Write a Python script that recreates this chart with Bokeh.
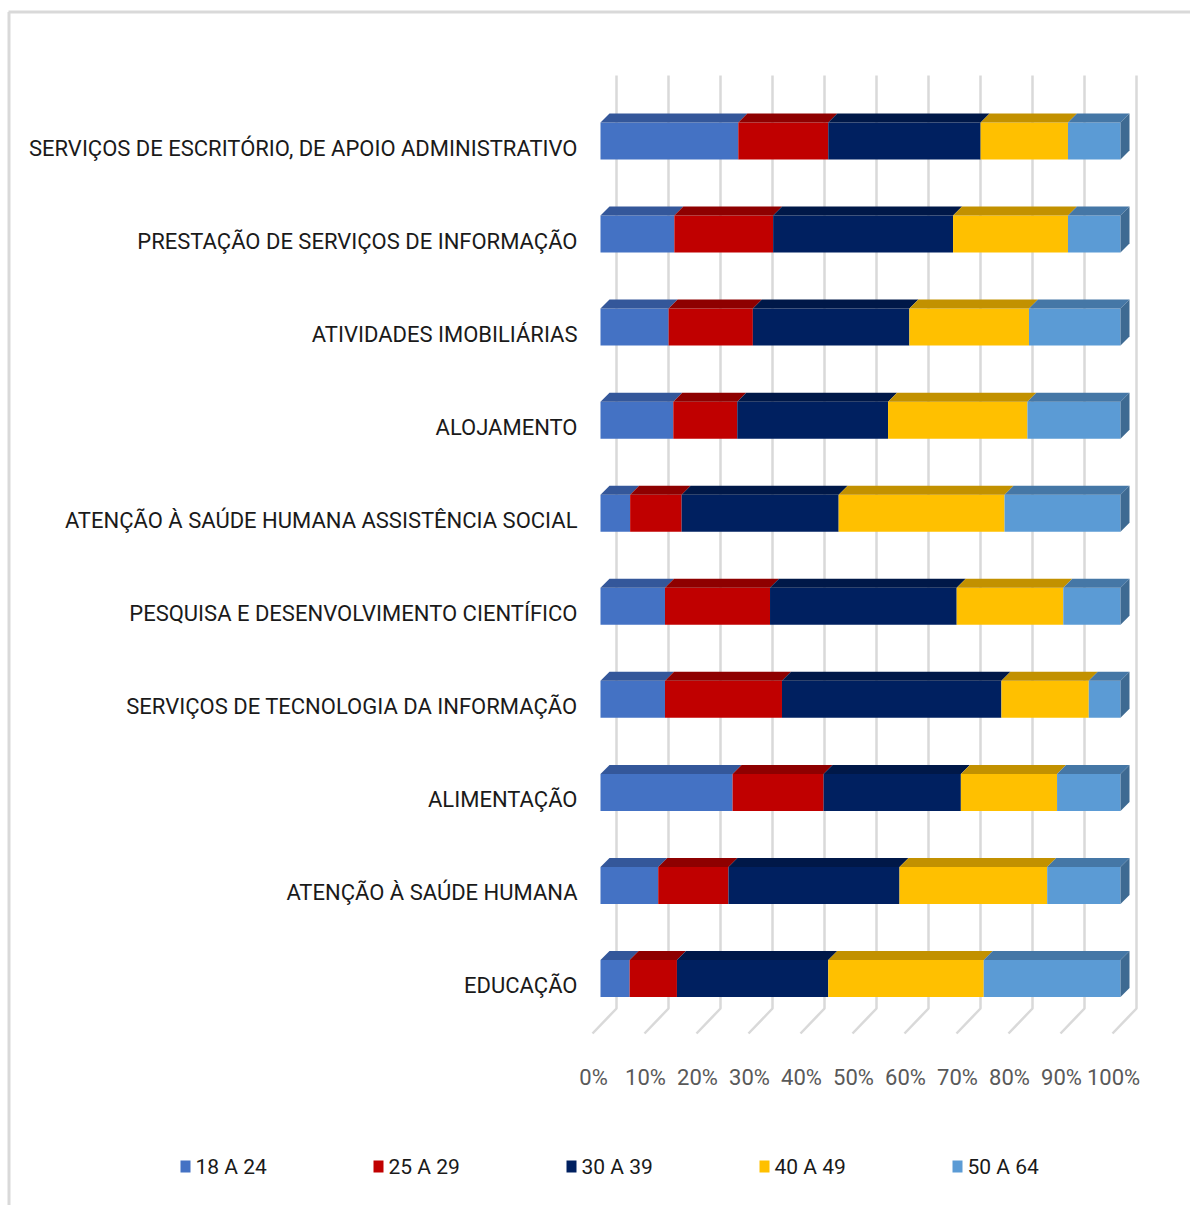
from bokeh.plotting import figure
from bokeh.models import Range1d
from bokeh.core.properties import value
from bokeh.embed import file_html
from bokeh.resources import INLINE

# ---------------- data ----------------
categories = [
    "SERVIÇOS DE ESCRITÓRIO, DE APOIO ADMINISTRATIVO",
    "PRESTAÇÃO DE SERVIÇOS DE INFORMAÇÃO",
    "ATIVIDADES IMOBILIÁRIAS",
    "ALOJAMENTO",
    "ATENÇÃO À SAÚDE HUMANA ASSISTÊNCIA SOCIAL",
    "PESQUISA E DESENVOLVIMENTO CIENTÍFICO",
    "SERVIÇOS DE TECNOLOGIA DA INFORMAÇÃO",
    "ALIMENTAÇÃO",
    "ATENÇÃO À SAÚDE HUMANA",
    "EDUCAÇÃO",
]
series_names = ["18 A 24", "25 A 29", "30 A 39", "40 A 49", "50 A 64"]
age_18_24 = [26.5, 14.2, 13.1, 14.0, 5.7, 12.4, 12.4, 25.4, 11.1, 5.6]
age_25_29 = [17.3, 19.0, 16.2, 12.3, 9.9, 20.2, 22.5, 17.5, 13.5, 9.1]
age_30_39 = [29.3, 34.6, 30.1, 29.0, 30.2, 35.9, 42.2, 26.4, 32.9, 29.1]
age_40_49 = [16.8, 22.1, 23.0, 26.8, 31.9, 20.5, 16.8, 18.5, 28.4, 29.9]
age_50_64 = [10.1, 10.1, 17.6, 17.9, 22.3, 11.0, 6.1, 12.2, 14.1, 26.3]
tick_values = [0, 10, 20, 30, 40, 50, 60, 70, 80, 90, 100]
tick_labels = ["0%", "10%", "20%", "30%", "40%", "50%", "60%", "70%", "80%", "90%", "100%"]

series = [age_18_24, age_25_29, age_30_39, age_40_49, age_50_64]
front_colors = ["#4472C4", "#C00000", "#002060", "#FFC000", "#5B9BD5"]
top_colors = ["#34579A", "#8E0000", "#001848", "#C29100", "#4577A6"]
side_color = "#3E6A92"
FONT = value("Roboto")

# ---------------- layout (pixel <-> data helpers) ----------------
OX, OY = 0, 0         # page position of the figure
W, H = 1190, 1205
PX_PER_PCT = 5.2      # horizontal pixels per percent
X0_PX = 600           # page x of 0 %
PX_PER_ROW = 93.06    # vertical pixels between categories
Y0_PX = 140.5         # page y of first category centre

def dx(px):
    return px / PX_PER_PCT

def dy(px):
    return -px / PX_PER_ROW

def X(px):
    return (px - X0_PX) / PX_PER_PCT

def Y(py):
    return -(py - Y0_PX) / PX_PER_ROW

p = figure(width=W, height=H, output_backend="svg", toolbar_location=None,
           x_range=Range1d(X(OX), X(OX + W)), y_range=Range1d(Y(OY + H), Y(OY)),
           x_axis_location=None, y_axis_location=None, min_border=0,
           outline_line_color=None, background_fill_color="white",
           border_fill_color="white")
p.grid.visible = False

# border (top and left)
p.line([X(8), X(OX + W)], [Y(11.5), Y(11.5)], line_color="#D9D9D9", line_width=3)
p.line([X(8.5), X(8.5)], [Y(11.5), Y(OY + H)], line_color="#D9D9D9", line_width=3)

# gridlines (back wall + floor)
gx, gy = [], []
for t in tick_values:
    bx = t + dx(16)
    gx.append([bx, bx, bx - dx(24)])
    gy.append([Y(75), Y(1008), Y(1033)])
p.multi_line(gx, gy, line_color="#D9D9D9", line_width=2.5)

# bars
n = len(categories)
h = 37 / PX_PER_ROW
ddx, ddy = dx(9), -dy(9)
for i in range(n):
    vals = [s[i] for s in series]
    tot = sum(vals)
    vals = [v * 100.0 / tot for v in vals]
    yc = -i
    top, bot = yc + h / 2, yc - h / 2
    left = 0.0
    for k, v in enumerate(vals):
        right = left + v
        p.quad(left=left, right=right, top=top, bottom=bot,
               fill_color=front_colors[k], line_color=None)
        p.patch([left, right, right + ddx, left + ddx],
                [top, top, top + ddy, top + ddy],
                fill_color=top_colors[k], line_color=None)
        left = right
    p.patch([left, left + ddx, left + ddx, left],
            [top, top + ddy, bot + ddy, bot],
            fill_color=side_color, line_color=None)

# category labels
p.text(x=[X(577)] * n, y=[-i + dy(7) for i in range(n)], text=categories,
       text_align="right", text_baseline="middle", text_font=FONT,
       text_font_size="22px", text_color="#1A1A1A")

# x tick labels
p.text(x=[t + X(593) for t in tick_values], y=[Y(1077)] * len(tick_values),
       text=tick_labels, text_align="center", text_baseline="middle",
       text_font=FONT, text_font_size="22px", text_color="#595959")

# legend
lx = [X(185 + 193 * k) for k in range(len(series_names))]
ly = [Y(1166)] * len(series_names)
p.rect(x=lx, y=ly, width=10, height=12, width_units="screen", height_units="screen",
       fill_color=front_colors, line_color=None)
p.text(x=[v + dx(10) for v in lx], y=ly, text=series_names, text_align="left",
       text_baseline="middle", text_font=FONT, text_font_size="21px",
       text_color="#1A1A1A")

open("out.html", "w").write(file_html(p, INLINE))
